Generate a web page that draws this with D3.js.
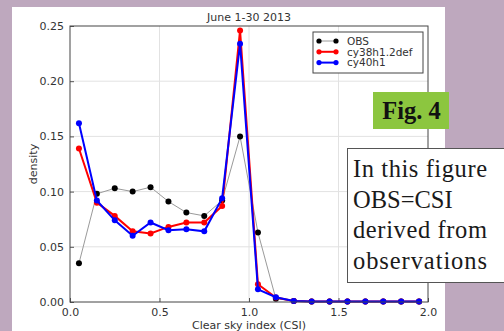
<!DOCTYPE html>
<html><head><meta charset="utf-8">
<script src="https://cdn.jsdelivr.net/npm/d3@7"></script>
<style>html,body{margin:0;padding:0;background:#bea8be;}svg{display:block;}</style>
</head><body>
<svg id="c" width="504" height="331"></svg>
<script>
const csi = [0.05,0.15,0.25,0.35,0.45,0.55,0.65,0.75,0.85,0.95,1.05,1.15,1.25,1.35,1.45,1.55,1.65,1.75,1.85,1.95];
const obs = [0.035,0.098,0.103,0.100,0.104,0.091,0.081,0.078,0.092,0.150,0.063,0.003,0.001,0.0005,0.0005,0.0005,0.0005,0.0005,0.0005,0.0005];
const cy38 = [0.139,0.090,0.078,0.064,0.062,0.068,0.072,0.072,0.087,0.246,0.016,0.004,0.001,0.0005,0.0005,0.0005,0.0005,0.0005,0.0005,0.0005];
const cy40 = [0.162,0.092,0.074,0.060,0.072,0.065,0.066,0.064,0.094,0.234,0.0115,0.0043,0.001,0.0005,0.0005,0.0005,0.0005,0.0005,0.0005,0.0005];
const xTicks = [0.0,0.5,1.0,1.5,2.0];
const yTicks = [0.00,0.05,0.10,0.15,0.20,0.25];
const seriesNames = ["OBS","cy38h1.2def","cy40h1"];
const noteLines = ["In this figure","OBS=CSI","derived from","observations"];

const svg = d3.select("#c");
// white panel
svg.append("rect").attr("x",12).attr("y",7).attr("width",433).attr("height",324).attr("fill","#fff");

const L=70,R=428,T=26,B=302;
const x = d3.scaleLinear().domain([0,2]).range([L,R]);
const y = d3.scaleLinear().domain([0,0.25]).range([B,T]);
const font = "DejaVu Sans, sans-serif";
const tc = "#333";

// grid
const g = svg.append("g");
g.selectAll(".gx").data(xTicks.slice(1,-1)).join("line")
 .attr("x1",d=>x(d)).attr("x2",d=>x(d)).attr("y1",T).attr("y2",B)
 .attr("stroke","#e2e2e2").attr("stroke-width",1);
g.selectAll(".gy").data(yTicks.slice(1,-1)).join("line")
 .attr("x1",L).attr("x2",R).attr("y1",d=>y(d)).attr("y2",d=>y(d))
 .attr("stroke","#e2e2e2").attr("stroke-width",1);

// axes
const xAxis = d3.axisBottom(x).tickValues(xTicks).tickFormat(d3.format(".1f")).tickSizeInner(-4).tickSizeOuter(0).tickPadding(6);
const yAxis = d3.axisLeft(y).tickValues(yTicks).tickFormat(d3.format(".2f")).tickSizeInner(-4).tickSizeOuter(0).tickPadding(6);
const ax = svg.append("g").attr("transform",`translate(0,${B})`).call(xAxis);
const ay = svg.append("g").attr("transform",`translate(${L},0)`).call(yAxis);
[ax,ay].forEach(a=>{
  a.select(".domain").remove();
  a.selectAll("line").attr("stroke","#555");
  a.selectAll("text").attr("font-family",font).attr("font-size",11).attr("fill",tc);
});
ax.selectAll("text").attr("dy","0.71em");

// series
const line = d3.line().x(d=>x(d[0])).y(d=>y(d[1]));
const series = [
  {vals:obs, stroke:"#9a9a9a", w:1, m:"#000"},
  {vals:cy38, stroke:"#ff0000", w:2, m:"#ff0000"},
  {vals:cy40, stroke:"#0000ff", w:2, m:"#0000ff"}
];
series.forEach(s=>{
  const pts = csi.map((c,i)=>[c,s.vals[i]]);
  svg.append("path").attr("d",line(pts)).attr("fill","none").attr("stroke",s.stroke).attr("stroke-width",s.w);
  svg.append("g").selectAll("circle").data(pts).join("circle")
    .attr("cx",d=>x(d[0])).attr("cy",d=>y(d[1])).attr("r",3).attr("fill",s.m);
});

// frame
svg.append("rect").attr("x",L).attr("y",T).attr("width",R-L).attr("height",B-T)
 .attr("fill","none").attr("stroke","#444").attr("stroke-width",1);

// title and labels
svg.append("text").attr("x",(L+R)/2).attr("y",21).attr("text-anchor","middle")
 .attr("font-family",font).attr("font-size",11).attr("fill",tc).text("June 1-30 2013");
svg.append("text").attr("x",(L+R)/2).attr("y",329).attr("text-anchor","middle")
 .attr("font-family",font).attr("font-size",11).attr("fill",tc).text("Clear sky index (CSI)");
svg.append("text").attr("transform",`translate(37,${(T+B)/2}) rotate(-90)`).attr("text-anchor","middle")
 .attr("font-family",font).attr("font-size",11).attr("fill",tc).text("density");

// legend
const lg = svg.append("g");
lg.append("rect").attr("x",313).attr("y",32).attr("width",110).attr("height",41)
 .attr("fill","#fff").attr("stroke","#444").attr("stroke-width",1);
seriesNames.forEach((n,i)=>{
  const yy = 41 + i*10.8;
  const s = series[i];
  lg.append("line").attr("x1",319).attr("x2",336).attr("y1",yy).attr("y2",yy).attr("stroke",s.stroke).attr("stroke-width",s.w);
  [319,336].forEach(cx=>lg.append("circle").attr("cx",cx).attr("cy",yy).attr("r",2.6).attr("fill",s.m));
  lg.append("text").attr("x",347).attr("y",yy+3.8).attr("font-family",font).attr("font-size",10.5).attr("fill",tc).text(n);
});

// right side decorations
svg.append("rect").attr("x",373).attr("y",92).attr("width",76).attr("height",37).attr("fill","#8cc63f");
svg.append("text").attr("x",411.5).attr("y",119).attr("text-anchor","middle")
 .attr("font-family","Liberation Serif, serif").attr("font-weight","bold").attr("font-size",24.5).attr("fill","#111").text("Fig. 4");

svg.append("rect").attr("x",347.5).attr("y",148.5).attr("width",170).attr("height",134)
 .attr("fill","#fff").attr("stroke","#555").attr("stroke-width",1);
noteLines.forEach((t,i)=>{
  const tx = svg.append("text").attr("x",353).attr("y",177+i*30.5)
   .attr("font-family","Liberation Serif, serif").attr("font-size",24.5).attr("fill","#1a1a1a").text(t);
  if(i!==1) tx.attr("textLength",134).attr("lengthAdjust","spacing");
});
</script>
</body></html>
